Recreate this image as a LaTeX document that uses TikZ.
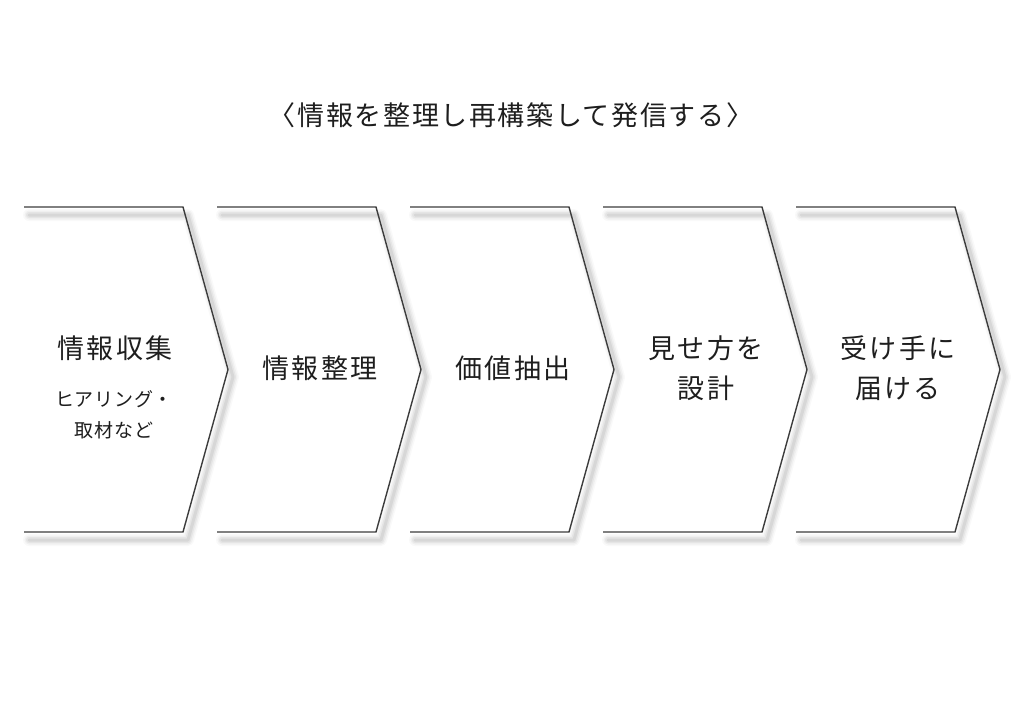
\documentclass[tikz,border=0pt]{standalone}
\usepackage{fontspec}
\setmainfont{Noto Sans CJK JP}
\newfontfamily\jpfont[LetterSpace=8]{Noto Sans CJK JP}
\newfontfamily\jptitle[LetterSpace=6]{Noto Sans CJK JP}
\newfontfamily\jpsub[LetterSpace=4]{Noto Sans CJK JP}
\definecolor{edge}{HTML}{3C3C3C}
\definecolor{ink}{HTML}{1E1E1E}
\tikzset{
  chevline/.style={draw=edge, line width=1.4pt, line join=miter},
  shadowline/.style={draw=black, line cap=round, line join=round},
  mainlabel/.style={font={\jpfont\fontsize{27}{40}\selectfont}, text=ink, align=center, inner sep=0pt},
  sublabel/.style={font={\jpsub\fontsize{19}{31}\selectfont}, text=ink, align=center, inner sep=0pt},
  titlelabel/.style={font={\jptitle\fontsize{27}{30}\selectfont}, text=ink, inner sep=0pt}
}
\begin{document}
\begin{tikzpicture}[x=1pt,y=-1pt]
\useasboundingbox[fill=white] (0,0) rectangle (1024,702);
% chevrons
\foreach \i/\x in {1/24,2/217,3/410,4/603,5/796}{
  \foreach \w/\o in {12/0.025,9/0.035,6/0.045,3/0.06}{
    \draw[shadowline, line width=\w pt, opacity=\o]
      (\x+5,215) -- (\x+164,215) -- (\x+209,377) -- (\x+164,540) -- (\x+5,540);
  }
  \draw[chevline] (\x,207) -- (\x+159,207) -- (\x+204,369.5) -- (\x+159,532) -- (\x,532);
}
\node[titlelabel] (title) at (511,115) {〈情報を整理し再構築して発信する〉};
\node[mainlabel] (s1) at (115,348) {情報収集};
\node[sublabel] (s1sub) at (114,414.5) {ヒアリング・\\取材など};
\node[mainlabel] (s2) at (320,368) {情報整理};
\node[mainlabel] (s3) at (513,368) {価値抽出};
\node[mainlabel] (s4) at (706,368) {見せ方を\\設計};
\node[mainlabel] (s5) at (898,368) {受け手に\\届ける};
\end{tikzpicture}
\end{document}
